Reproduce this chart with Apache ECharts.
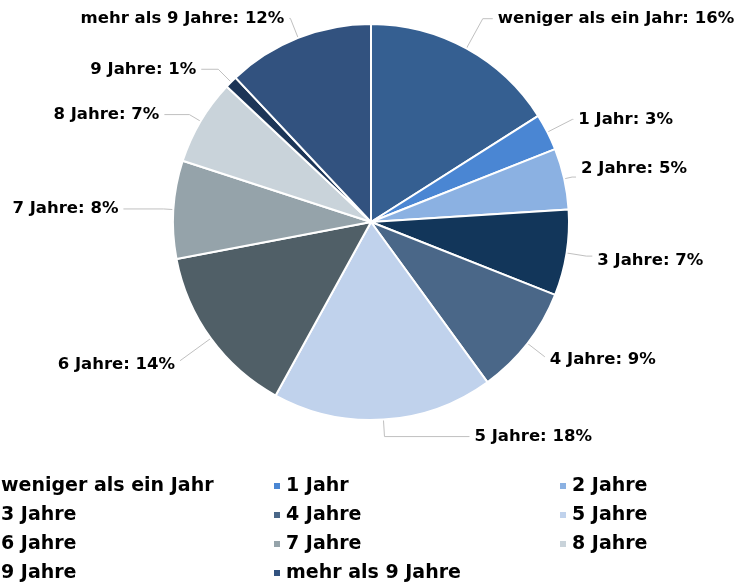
<!DOCTYPE html>
<html>
<head>
<meta charset="utf-8">
<script src="https://cdn.jsdelivr.net/npm/echarts@6/dist/echarts.min.js"></script>
<style>
  html, body { margin: 0; padding: 0; background: #fff; }
  #chart { width: 735px; height: 583px; }
</style>
</head>
<body>
<div id="chart"></div>
<script>
// Kategorien und Anteile (%)
const categories = ['weniger als ein Jahr', '1 Jahr', '2 Jahre', '3 Jahre', '4 Jahre', '5 Jahre',
  '6 Jahre', '7 Jahre', '8 Jahre', '9 Jahre', 'mehr als 9 Jahre'];
const values = [16, 3, 5, 7, 9, 18, 14, 8, 7, 1, 12];
const colors = ['#355f91', '#4a86d3', '#8bb1e2', '#12365a', '#4a6788', '#c0d2ec',
  '#505f67', '#95a3aa', '#c9d3da', '#1c3557', '#32527f'];

// Beschriftungslinien je Segment: [length, length2], plus vertikaler Versatz
const lineLen = [[34, 10], [28, 1], [8, 4], [20, 6], [22, 0], [17, 85],
  [38, 0], [10, 40], [13, 25], [18, 17], [21, 1]];
const labelDy = [0, 0, -8, 5, 3, 0, 4, 0, 0, 0, 0];

// Legendenspalten
const legendCols = [
  ['weniger als ein Jahr', '3 Jahre', '6 Jahre', '9 Jahre'],
  ['1 Jahr', '4 Jahre', '7 Jahre', 'mehr als 9 Jahre'],
  ['2 Jahre', '5 Jahre', '8 Jahre'],
];
const legendX = [-13, 272, 558];

const FONT = '"DejaVu Sans", sans-serif';
const chart = echarts.init(document.getElementById('chart'), null, { renderer: 'canvas' });

chart.setOption({
  backgroundColor: '#fff',
  color: colors,
  legend: legendCols.map((col, i) => ({
    orient: 'vertical',
    left: legendX[i], top: 476, height: 120,
    padding: 0,
    itemWidth: 8, itemHeight: 8, itemGap: 9,
    icon: 'rect',
    data: col,
    textStyle: { color: '#000', fontSize: 19, fontWeight: 'bold', fontFamily: FONT, lineHeight: 20 },
  })),
  series: [{
    type: 'pie',
    center: [371, 222], radius: 198,
    startAngle: 90, clockwise: true,
    avoidLabelOverlap: false,
    data: categories.map((c, i) => ({
      name: c, value: values[i],
      labelLine: { length: lineLen[i][0], length2: lineLen[i][1] },
    })),
    itemStyle: { borderColor: '#fff', borderWidth: 2 },
    label: {
      formatter: '{b}: {c}%',
      color: '#000', fontSize: 16.5, fontWeight: 'bold', fontFamily: FONT,
    },
    labelLine: { lineStyle: { color: '#c0c0c0', width: 1 } },
    labelLayout: p => labelDy[p.dataIndex] ? { dy: labelDy[p.dataIndex] } : {},
    emphasis: { disabled: true },
  }],
});
</script>
</body>
</html>
